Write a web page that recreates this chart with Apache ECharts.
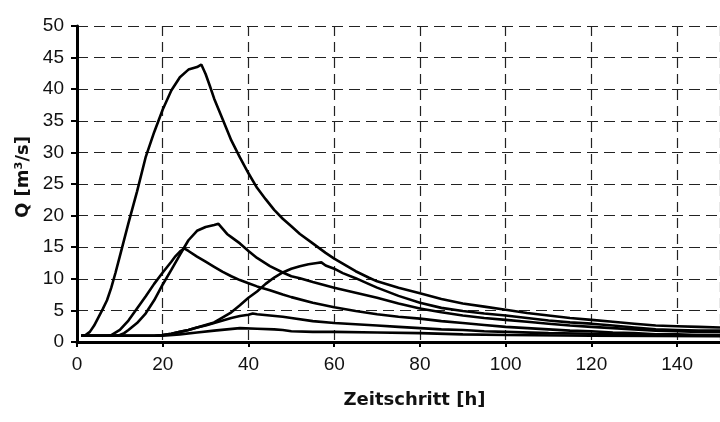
<!DOCTYPE html>
<html>
<head>
<meta charset="utf-8">
<script src="https://cdn.jsdelivr.net/npm/echarts@6/dist/echarts.min.js"></script>
<style>html,body{margin:0;padding:0;background:#fff}#c{width:720px;height:422px}</style>
</head>
<body>
<div id="c"></div>
<script>
// Hydrograph values: [hour, Q m³/s]
var seriesA = [[1,1.0],[2,1.1],[3,1.6],[4,2.6],[5,3.9],[6,5.2],[7,6.6],[8,8.6],[9,11.0],[10,13.6],[12,18.8],[14,23.8],[16,29.2],[18,33.2],[20,36.8],[22,39.8],[24,41.9],[26,43.1],[28,43.5],[29,43.9],[30,42.4],[31,40.5],[32,38.5],[34,35.2],[36,31.9],[38,29.2],[40,26.7],[42,24.4],[44,22.6],[46,20.9],[48,19.5],[50,18.3],[52,17.1],[55,15.6],[58,14.1],[60,13.2],[62,12.4],[65,11.2],[68,10.2],[70,9.6],[75,8.6],[80,7.7],[85,6.8],[90,6.1],[95,5.6],[100,5.1],[105,4.6],[110,4.2],[115,3.8],[120,3.5],[125,3.2],[130,2.9],[135,2.6],[140,2.5],[145,2.4],[150,2.3]];
var seriesB = [[1,1.0],[9,1.0],[10,1.1],[11,1.4],[12,1.9],[14,3.0],[16,4.5],[18,6.6],[20,9.1],[22,11.4],[24,13.8],[26,16.1],[28,17.6],[30,18.2],[32,18.5],[33,18.7],[34,17.9],[35,17.1],[36,16.6],[38,15.6],[40,14.4],[42,13.3],[45,12.0],[48,11.0],[50,10.4],[52,10.1],[55,9.5],[60,8.6],[65,7.8],[70,7.0],[75,6.1],[80,5.3],[85,4.7],[90,4.2],[95,3.8],[100,3.5],[105,3.2],[110,2.9],[115,2.6],[120,2.4],[125,2.2],[130,2.0],[135,1.8],[140,1.7],[145,1.6],[150,1.6]];
var seriesC = [[1,1.0],[18,1.0],[20,1.1],[22,1.3],[24,1.6],[26,1.9],[28,2.3],[30,2.7],[32,3.1],[34,3.9],[36,4.7],[38,5.8],[40,7.0],[42,8.0],[44,9.2],[46,10.2],[48,11.0],[50,11.6],[52,12.0],[54,12.3],[56,12.5],[57,12.6],[58,12.1],[60,11.6],[62,10.9],[65,10.1],[68,9.2],[70,8.6],[75,7.3],[80,6.2],[85,5.4],[90,4.9],[95,4.5],[100,4.2],[105,3.8],[110,3.4],[115,3.1],[120,2.9],[125,2.6],[130,2.3],[135,2.0],[140,1.9],[145,1.8],[150,1.8]];
var seriesD = [[1,1.0],[7,1.0],[8,1.1],[10,1.9],[12,3.4],[14,5.3],[16,7.2],[18,9.2],[20,11.0],[22,12.7],[23,13.6],[24,14.3],[25,14.8],[26,14.4],[28,13.5],[30,12.7],[32,11.9],[34,11.1],[36,10.4],[38,9.8],[40,9.3],[42,8.8],[45,8.2],[48,7.5],[50,7.1],[55,6.2],[60,5.5],[65,4.9],[70,4.4],[75,4.0],[80,3.7],[85,3.3],[90,3.0],[95,2.7],[100,2.4],[105,2.2],[110,2.0],[115,1.8],[120,1.7],[125,1.5],[130,1.4],[135,1.2],[140,1.2],[145,1.1],[150,1.1]];
var seriesE = [[1,1.0],[18,1.0],[20,1.1],[22,1.3],[24,1.6],[26,1.9],[28,2.3],[30,2.6],[32,3.0],[34,3.4],[36,3.8],[38,4.1],[40,4.3],[41,4.5],[42,4.4],[45,4.2],[48,4.0],[50,3.8],[55,3.3],[60,3.0],[65,2.8],[70,2.6],[75,2.4],[80,2.2],[85,2.0],[90,1.9],[95,1.7],[100,1.6],[110,1.4],[120,1.3],[130,1.2],[135,1.0],[150,1.0]];
var seriesF = [[1,1.0],[20,1.0],[24,1.2],[28,1.5],[32,1.8],[35,2.0],[38,2.2],[42,2.1],[46,2.0],[48,1.9],[50,1.7],[55,1.6],[60,1.6],[70,1.5],[80,1.4],[90,1.2],[100,1.1],[120,1.0],[150,0.9]];

var allSeries = [seriesA, seriesB, seriesC, seriesD, seriesE, seriesF];
var xTicks = [0, 20, 40, 60, 80, 100, 120, 140];
var yTicks = [0, 5, 10, 15, 20, 25, 30, 35, 40, 45, 50];
var xTitle = 'Zeitschritt [h]';
var yTitle = 'Q [m³/s]';

var chart = echarts.init(document.getElementById('c'), null, {renderer: 'canvas'});
var labelFont = {fontFamily: 'Liberation Sans, Arial, sans-serif', fontSize: 19, color: '#111'};
var titleFont = {fontFamily: 'DejaVu Sans, sans-serif', fontSize: 18, fontWeight: 'bold', color: '#111'};

chart.setOption({
  animation: false,
  backgroundColor: '#fff',
  grid: {left: 77, top: 26, bottom: 80, right: -2, containLabel: false},
  xAxis: {
    type: 'value', min: 0, max: 150, interval: 20,
    name: xTitle, nameLocation: 'middle', nameGap: 49,
    nameTextStyle: Object.assign({}, titleFont, {padding: [0, 0, 0, 32]}),
    axisLine: {show: true, lineStyle: {color: '#000', width: 3}},
    axisTick: {show: true, length: 5, lineStyle: {color: '#000', width: 2}},
    axisLabel: Object.assign({}, labelFont, {margin: 13, showMaxLabel: false,
      formatter: function (v) { return xTicks.indexOf(v) >= 0 ? String(v) : ''; }}),
    splitLine: {show: true, lineStyle: {color: '#222', width: 1.2, type: [10, 6]}}
  },
  yAxis: {
    type: 'value', min: 0, max: 50, interval: 5,
    name: yTitle, nameLocation: 'middle', nameGap: 44,
    nameTextStyle: Object.assign({}, titleFont, {padding: [0, 0, 0, 14]}),
    axisLine: {show: true, lineStyle: {color: '#000', width: 3}},
    axisTick: {show: true, length: 6, lineStyle: {color: '#000', width: 2}},
    axisLabel: Object.assign({}, labelFont, {margin: 13,
      formatter: function (v) { return yTicks.indexOf(v) >= 0 ? String(v) : ''; }}),
    splitLine: {show: true, lineStyle: {color: '#222', width: 1.2, type: [11, 6]}}
  },
  series: allSeries.map(function (d) {
    return {
      type: 'line', data: d, showSymbol: false, smooth: false,
      lineStyle: {color: '#000', width: 2.6}, z: 3
    };
  })
});
</script>
</body>
</html>
